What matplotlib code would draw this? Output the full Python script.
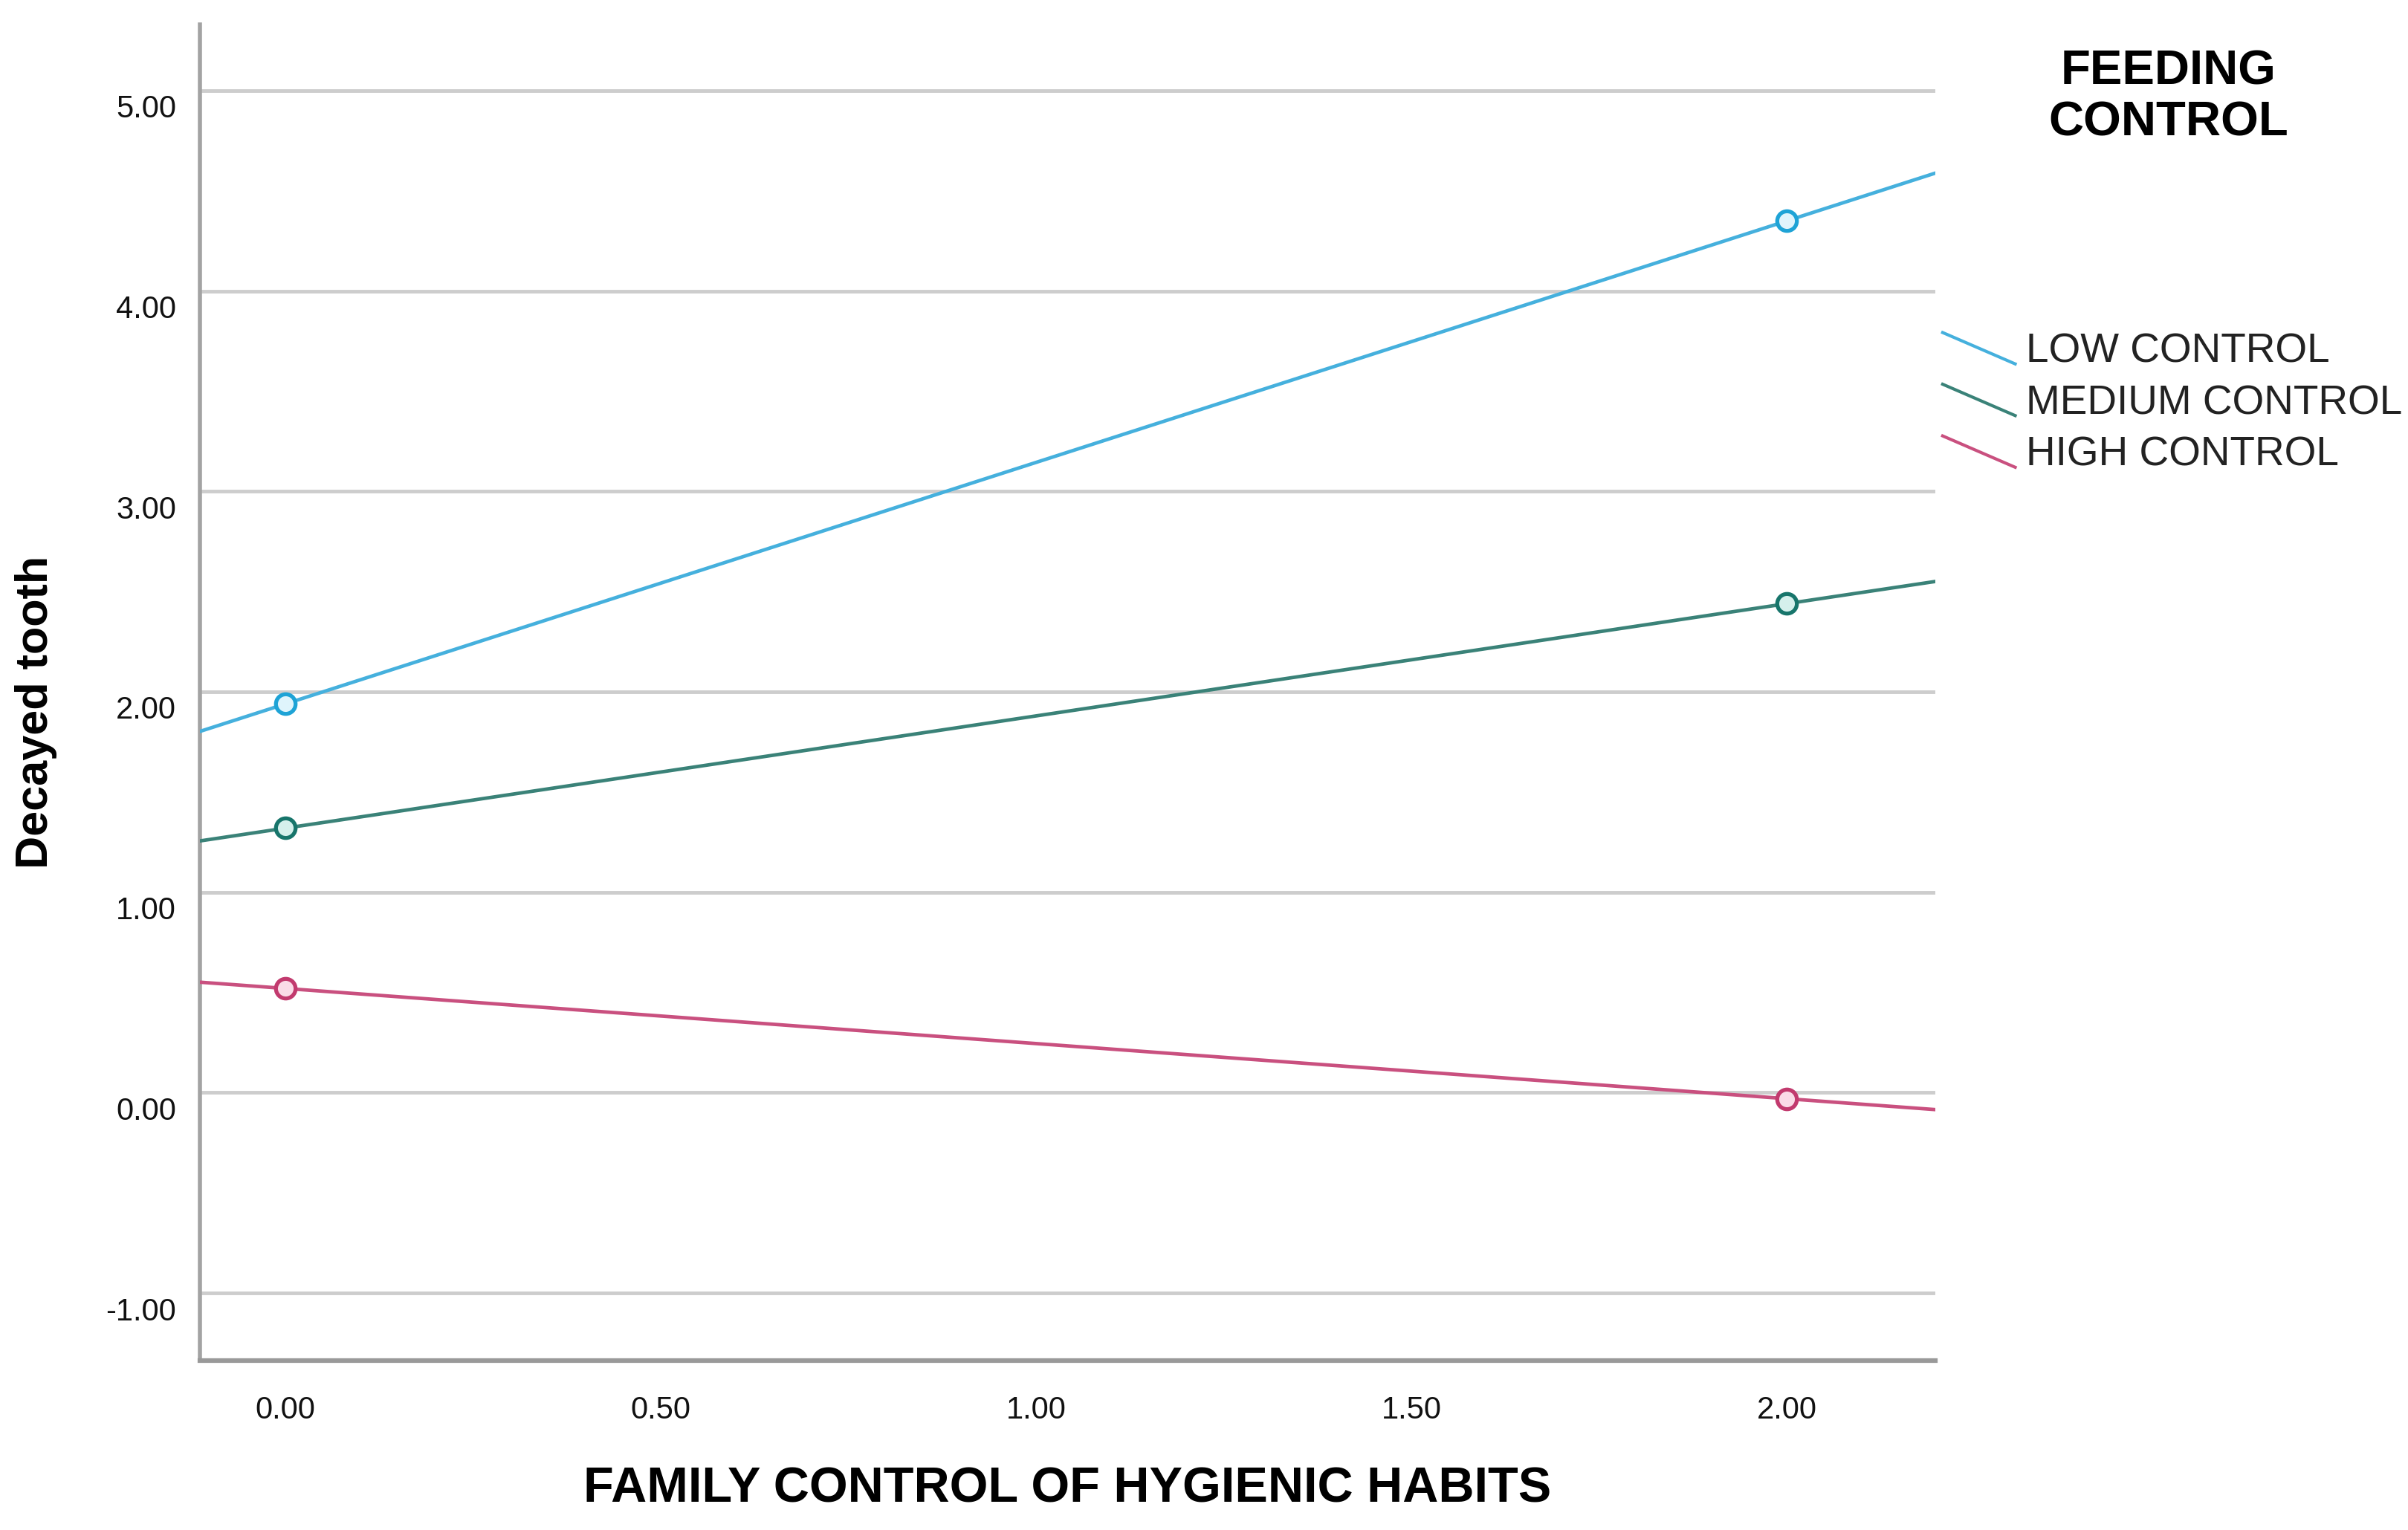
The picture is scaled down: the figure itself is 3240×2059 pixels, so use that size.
import numpy as np
import matplotlib
matplotlib.use("Agg")
import matplotlib.pyplot as plt
from matplotlib.lines import Line2D
from matplotlib.legend_handler import HandlerBase
from matplotlib.transforms import ScaledTranslation

plt.rcParams['font.family'] = ['Liberation Sans', 'DejaVu Sans']

# datos (medias estimadas)
x_vals = [0.0, 2.0]
series_names = ['LOW CONTROL', 'MEDIUM CONTROL', 'HIGH CONTROL']
low_control = [1.94, 4.35]
medium_control = [1.32, 2.44]
high_control = [0.52, -0.03]
x_ticks = [0.0, 0.5, 1.0, 1.5, 2.0]
y_ticks = [-1.0, 0.0, 1.0, 2.0, 3.0, 4.0, 5.0]

colores = ['#45b0dd', '#3a8278', '#c9507f']
bordes = ['#1ea3d6', '#17756b', '#c23a6e']
caras = ['#dff4fc', '#d5f0ec', '#fadbe7']


class SlantHandler(HandlerBase):
    # linea inclinada en la leyenda, como en SPSS
    def create_artists(self, legend, orig_handle, xdescent, ydescent,
                       width, height, fontsize, trans):
        ln = Line2D([-xdescent, width - xdescent],
                    [height * 1.05 - ydescent, -height * 0.05 - ydescent],
                    color=orig_handle.get_color(), lw=orig_handle.get_linewidth(),
                    transform=trans)
        return [ln]


fig = plt.figure(figsize=(32.41, 20.59), dpi=100)
ax = fig.add_axes([0.0830, 0.1107, 0.7205, 0.8733])

# rejilla horizontal
for yv in y_ticks:
    ax.axhline(yv, color='#cdcdcd', lw=3.5, zorder=1)

handles = []
for nombre, vals, c, bc, fc in zip(series_names, [low_control, medium_control, high_control],
                                   colores, bordes, caras):
    # recta de ajuste extendida a todo el eje
    ax.axline((x_vals[0], vals[0]), (x_vals[1], vals[1]), color=c, lw=3.4, zorder=3)
    ax.plot(x_vals, vals, linestyle='none', marker='o', ms=19, mew=3.8,
            mec=bc, mfc=fc, zorder=4)
    handles.append(Line2D([], [], color=c, lw=3, label=nombre))

ax.set_xlim(-0.114, 2.198)
ax.set_ylim(-1.337, 5.33)

ax.set_xticks(x_ticks)
ax.set_xticklabels(['%.2f' % v for v in x_ticks])
ax.set_yticks(y_ticks)
ax.set_yticklabels(['%.2f' % v for v in y_ticks])
ax.tick_params(axis='both', length=0, labelsize=30, colors='#111111')
ax.tick_params(axis='x', pad=34)
ax.tick_params(axis='y', pad=23)
off = ScaledTranslation(0, -15 / 72, fig.dpi_scale_trans)
for lab in ax.get_yticklabels():
    lab.set_transform(lab.get_transform() + off)

for s in ['top', 'right']:
    ax.spines[s].set_visible(False)
ax.spines['left'].set_color('#a3a3a3')
ax.spines['left'].set_linewidth(4)
ax.spines['bottom'].set_color('#999999')
ax.spines['bottom'].set_linewidth(4.5)

ax.set_xlabel('FAMILY CONTROL OF HYGIENIC HABITS', fontsize=48, fontweight='bold')
ax.xaxis.set_label_coords(0.5, -0.0962)
ax.xaxis.label.set_va('center')
ax.set_ylabel('Decayed tooth', fontsize=44, fontweight='bold')
ax.yaxis.set_label_coords(-0.0945, 0.4855)
ax.yaxis.label.set_va('center')

fig.text(0.9003, 0.9365, 'FEEDING\nCONTROL', ha='center', va='center',
         fontsize=47, fontweight='bold', linespacing=1.2)

fig.legend(handles=handles, loc='upper left', bbox_to_anchor=(0.8065, 0.7825),
           frameon=False, fontsize=39.5, handlelength=1.78, handletextpad=0.26,
           labelspacing=0.32, borderpad=0, borderaxespad=0,
           labelcolor='#222222', handler_map={Line2D: SlantHandler()})

fig.savefig('out.png', dpi=100, facecolor='white')
